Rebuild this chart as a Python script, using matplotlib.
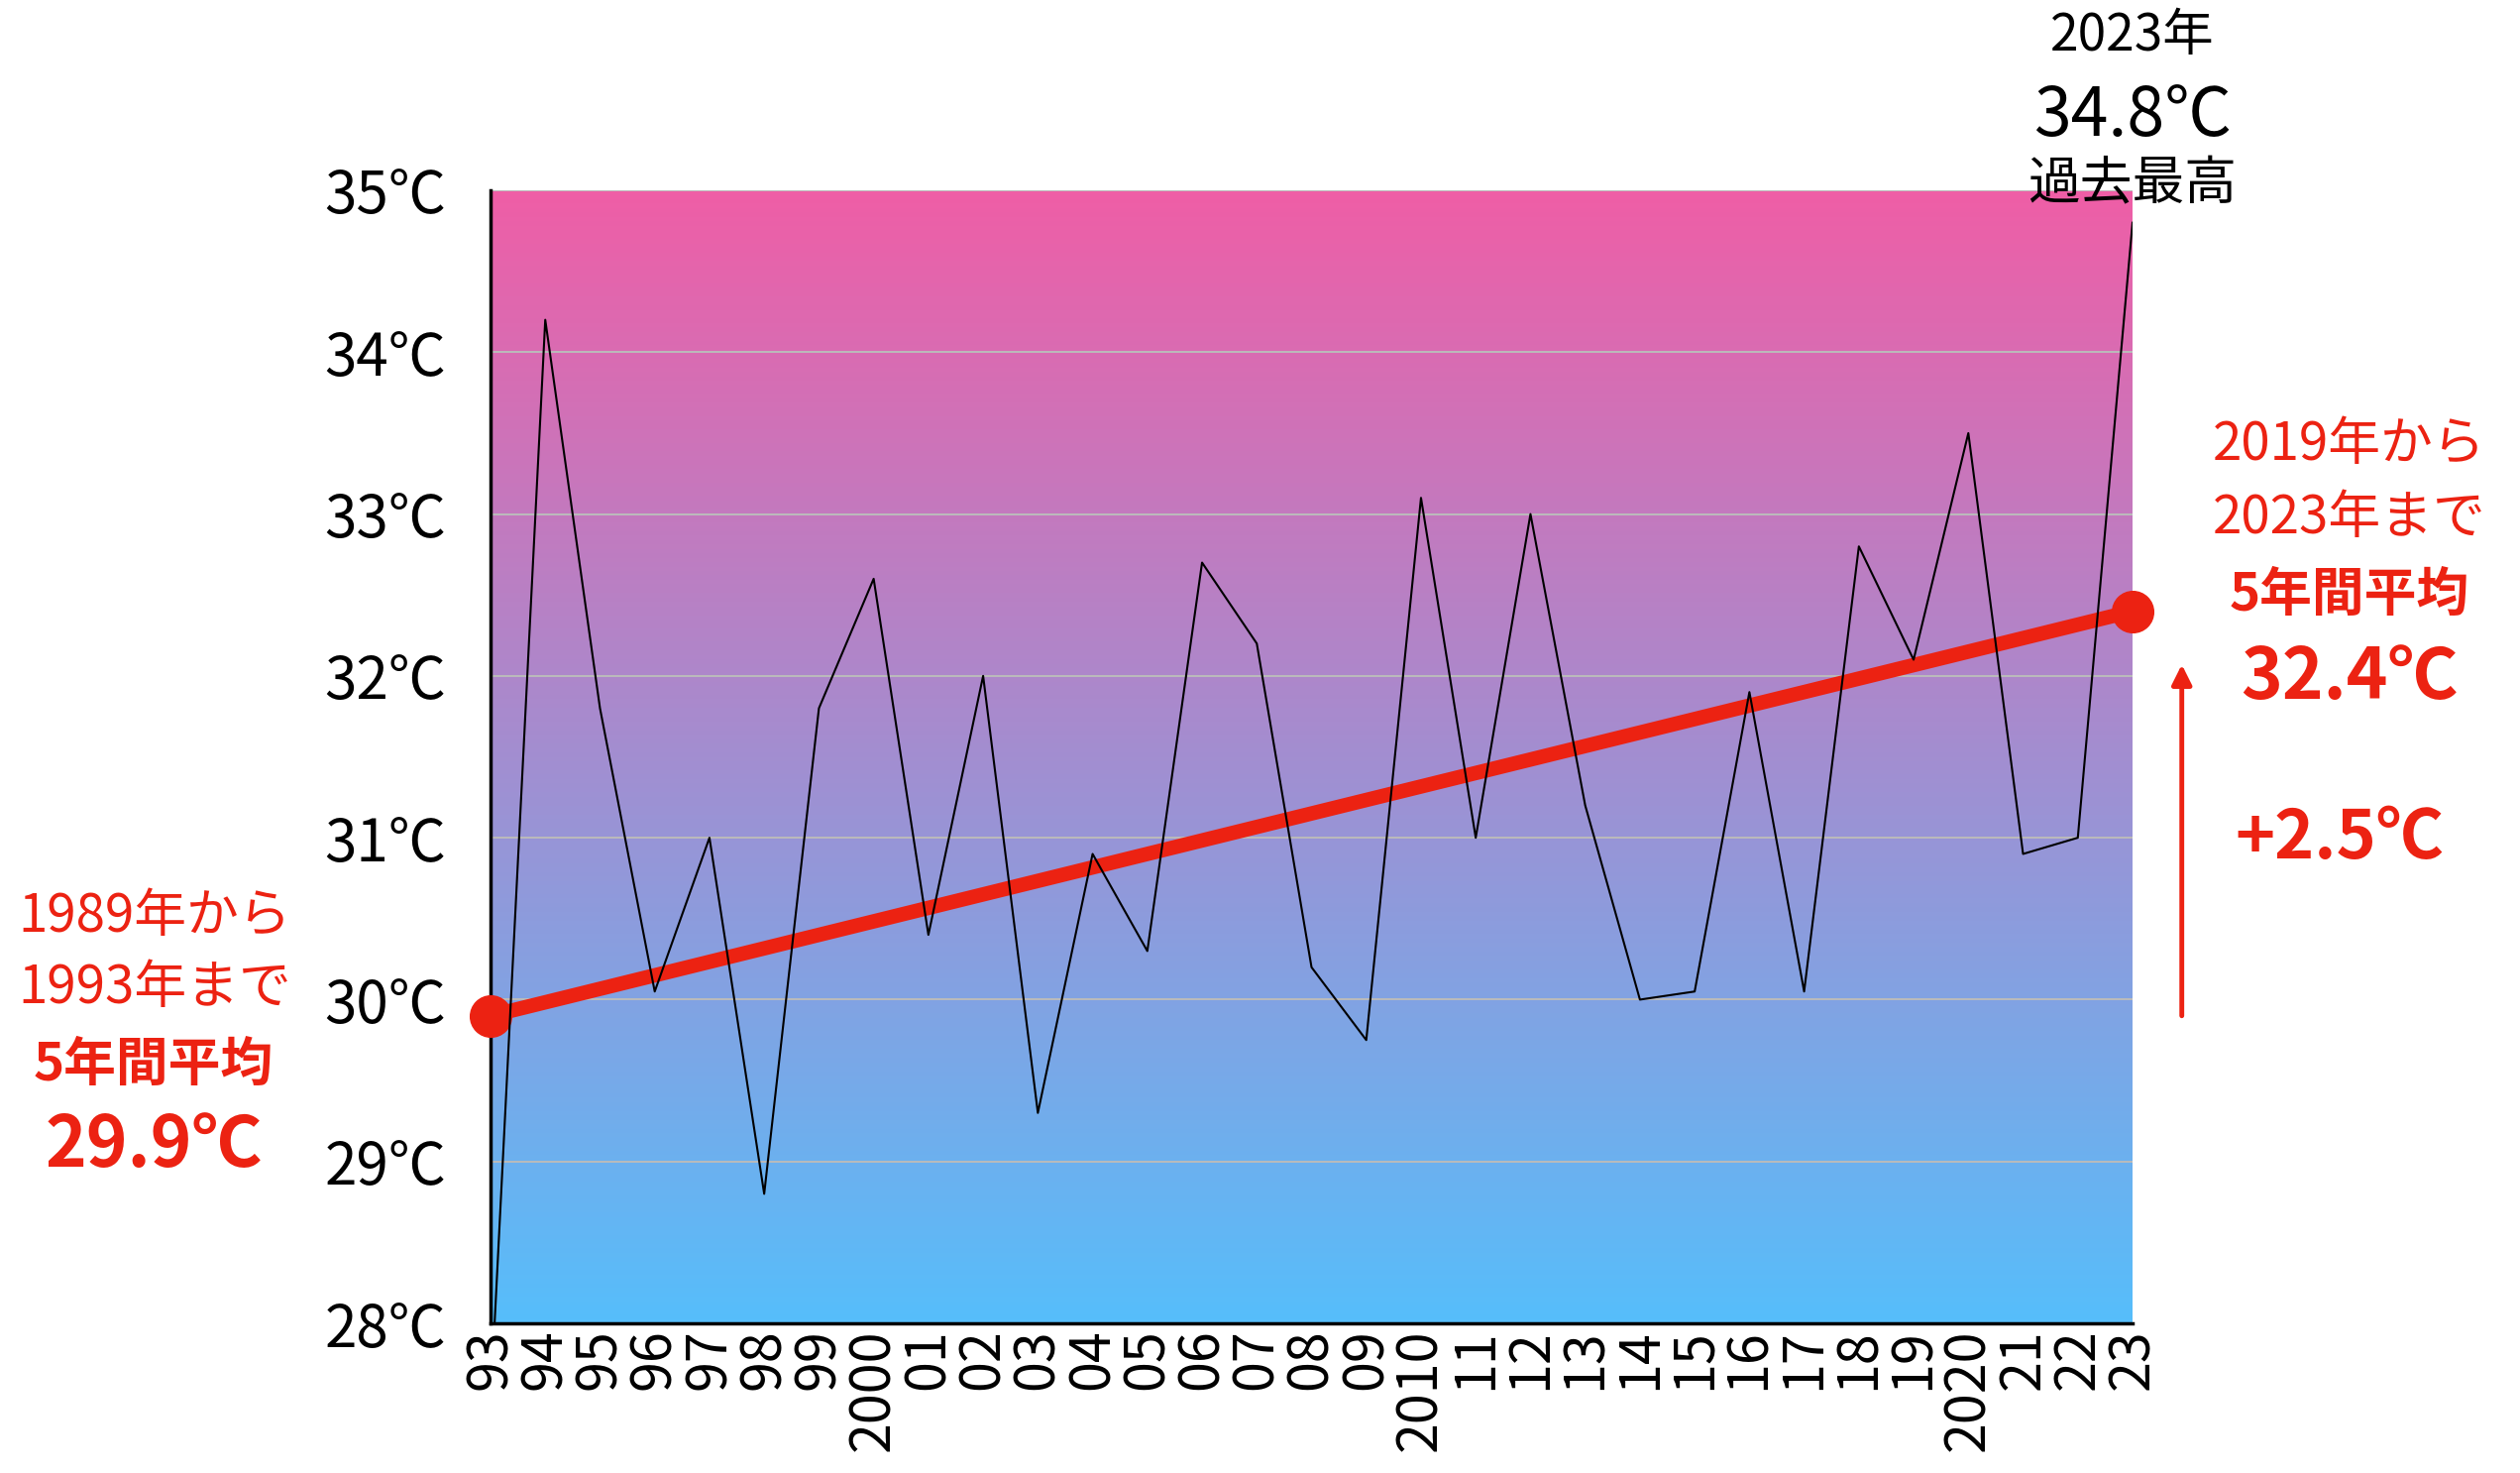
import numpy as np
import matplotlib
matplotlib.use("Agg")
import matplotlib.pyplot as plt
from matplotlib.colors import LinearSegmentedColormap

plt.rcParams['font.family'] = ['Noto Sans CJK JP', 'DejaVu Sans']

# === DATA ===
years = list(range(1993, 2024))
temps = [27.5, 34.2, 31.8, 30.05, 31.0, 28.8, 31.8, 32.6, 30.4, 32.0,
         29.3, 30.9, 30.3, 32.7, 32.2, 30.2, 29.75, 33.1, 31.0, 33.0,
         31.2, 30.0, 30.05, 31.9, 30.05, 32.8, 32.1, 33.5, 30.9, 31.0, 34.8]
year_labels = ["93", "94", "95", "96", "97", "98", "99", "2000", "01", "02",
               "03", "04", "05", "06", "07", "08", "09", "2010", "11", "12",
               "13", "14", "15", "16", "17", "18", "19", "2020", "21", "22", "23"]
y_ticks = [28, 29, 30, 31, 32, 33, 34, 35]
avg_years = [1993, 2023]
avg_values = [29.9, 32.4]

RED = '#EC2212'
W, H = 2543, 1486

def fx(px):
    return px / W

def fy(py):
    return 1 - py / H

fig = plt.figure(figsize=(W / 100, H / 100), dpi=100)
ax = fig.add_axes([fx(495), fy(1335), fx(2152) - fx(495), fy(192) - fy(1335)])

# === gradient background ===
cmap = LinearSegmentedColormap.from_list("bg", ["#56BEFB", "#EF5EA6"])
grad = np.linspace(0, 1, 256).reshape(-1, 1)
ax.imshow(grad, extent=[years[0], years[-1], y_ticks[0], y_ticks[-1]],
          aspect='auto', cmap=cmap, origin='lower', zorder=0)

# === lines ===
ax.plot(avg_years, avg_values, color=RED, lw=10.5, marker='o', ms=30,
        solid_capstyle='butt', clip_on=False, zorder=3)
ax.plot(years, temps, color='black', lw=1.5, zorder=4)

ax.set_xlim(years[0], years[-1])
ax.set_ylim(y_ticks[0], y_ticks[-1])

ax.set_yticks(y_ticks)
ax.set_yticklabels([f"{t}℃" for t in y_ticks], fontsize=42)
ax.set_xticks(years)
ax.set_xticklabels(year_labels, fontsize=40, rotation=90)
ax.tick_params(axis='y', length=0, pad=32)
ax.tick_params(axis='x', length=0, pad=4)

ax.grid(axis='y', color='#BBBBBB', lw=1.4)
ax.grid(axis='x', visible=False)
for side in ['top', 'right']:
    ax.spines[side].set_visible(False)
ax.spines['left'].set_linewidth(2.5)
ax.spines['bottom'].set_linewidth(2.5)

# === arrow ===
ax.annotate("", xy=(2023.9, 32.07), xytext=(2023.9, 29.9),
            arrowprops=dict(arrowstyle='-|>,head_length=1.2,head_width=0.6',
                            color=RED, lw=3.5, shrinkA=0, shrinkB=0),
            annotation_clip=False)

# === annotations ===
fig.text(fx(156), fy(924), "1989年から", color=RED, fontsize=38, ha='center', va='center')
fig.text(fx(156), fy(997), "1993年まで", color=RED, fontsize=38, ha='center', va='center')
fig.text(fx(155), fy(1074), "5年間平均", color=RED, fontsize=38, fontweight='bold', ha='center', va='center')
fig.text(fx(155), fy(1156), "29.9℃", color=RED, fontsize=51, fontweight='bold', ha='center', va='center')

fig.text(fx(2371), fy(449), "2019年から", color=RED, fontsize=38, ha='center', va='center')
fig.text(fx(2371), fy(522), "2023年まで", color=RED, fontsize=38, ha='center', va='center')
fig.text(fx(2371), fy(600), "5年間平均", color=RED, fontsize=38, fontweight='bold', ha='center', va='center')
fig.text(fx(2371), fy(684), "32.4℃", color=RED, fontsize=51, fontweight='bold', ha='center', va='center')
fig.text(fx(2361), fy(847), "+2.5℃", color=RED, fontsize=49, fontweight='bold', ha='center', va='center')

fig.text(fx(2152), fy(36), "2023年", color='black', fontsize=37, ha='center', va='center')
fig.text(fx(2152), fy(118), "34.8℃", color='black', fontsize=49, ha='center', va='center')
fig.text(fx(2152), fy(186), "過去最高", color='black', fontsize=38, ha='center', va='center')

fig.savefig("out.png", dpi=100)
